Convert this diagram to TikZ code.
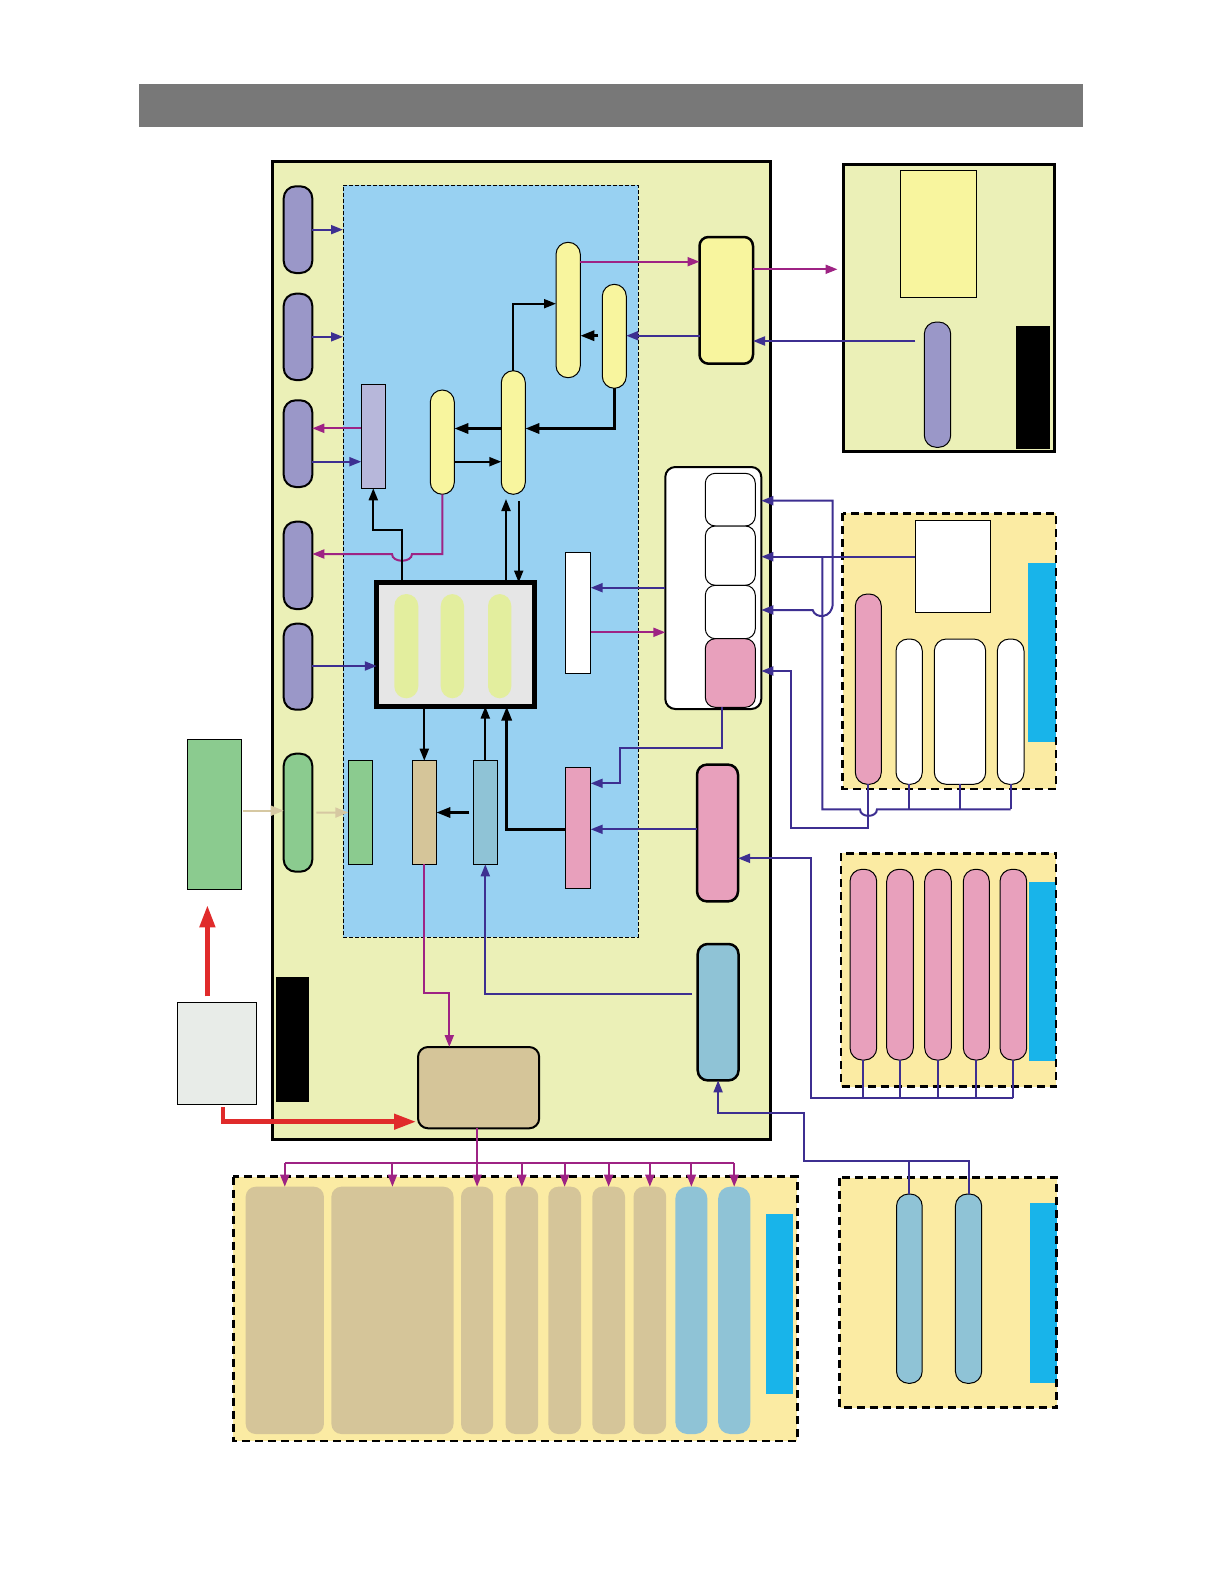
\documentclass[tikz,border=0pt]{standalone}
\usetikzlibrary{arrows.meta,fit,calc}
\definecolor{cmain}{HTML}{EBF0B7}
\definecolor{cpanel}{HTML}{FBEBA3}
\definecolor{cblue}{HTML}{98D1F2}
\definecolor{cpur}{HTML}{9A97C8}
\definecolor{clpur}{HTML}{B7B7DA}
\definecolor{cyel}{HTML}{F8F59E}
\definecolor{cgreen}{HTML}{8BCB8F}
\definecolor{ctanf}{HTML}{D5C599}
\definecolor{clb}{HTML}{8FC3D6}
\definecolor{cpink}{HTML}{E8A0BC}
\definecolor{ccyan}{HTML}{18B4EA}
\definecolor{cind}{HTML}{3D2F91}
\definecolor{cmag}{HTML}{9E2384}
\definecolor{ctan}{HTML}{D6C8A2}
\definecolor{cred}{HTML}{E02B2B}
\definecolor{cgray}{HTML}{787878}
\definecolor{ccb}{HTML}{E6E6E6}
\definecolor{cinner}{HTML}{E3EE9E}
\definecolor{cwg}{HTML}{E8ECE8}
\newcommand\bxn[6]{\node[#2,fit={(#3,#4) (#5,#6)}] (#1) {};}
\begin{document}
\begin{tikzpicture}[x=1pt,y=-1pt,
  >={Triangle[length=12pt,width=9pt]},
  bx/.style={inner sep=0pt,outer sep=0pt,draw=black,line width=1pt},
  nb/.style={inner sep=0pt,outer sep=0pt,draw=none},
  pill/.style={bx,rounded corners=12pt},
  pnlb/.style={draw=black,line width=2.5pt,dash pattern=on 8pt off 5pt},
  bl/.style={draw=cind,line width=2pt},
  mg/.style={draw=cmag,line width=2pt},
  bk/.style={draw=black,line width=2pt},
  bkt/.style={draw=black,line width=3pt,>={Triangle[length=14pt,width=10pt]}},
  rd/.style={draw=cred,line width=4.5pt,>={Triangle[length=22pt,width=15pt]}},
  tn/.style={draw=ctan,line width=2pt,>={Triangle[length=13pt,width=10pt]}},
]
\useasboundingbox (0,0) rectangle (1224,1584);
\fill[white] (0,0) rectangle (1224,1584);

% header
\bxn{hdr}{nb,fill=cgray}{139.2}{84}{1083}{127.5}

% main panel
\bxn{main}{bx,fill=cmain,line width=3pt}{272.5}{161.5}{770.5}{1139.5}
\bxn{blue}{bx,fill=cblue,line width=0.8pt,dash pattern=on 4pt off 2pt}{343}{185}{638}{937}

% left purple pills
\bxn{pp1}{pill,fill=cpur,line width=2pt}{283.7}{186.3}{312.3}{273}
\bxn{pp2}{pill,fill=cpur,line width=2pt}{283.7}{293.7}{312.3}{380}
\bxn{pp3}{pill,fill=cpur,line width=2pt}{283.7}{400.3}{312.3}{487}
\bxn{pp4}{pill,fill=cpur,line width=2pt}{283.7}{521.7}{312.3}{609}
\bxn{pp5}{pill,fill=cpur,line width=2pt}{283.7}{623.7}{312.3}{709.7}
\bxn{gp}{pill,fill=cgreen,line width=2pt}{283.7}{753.7}{312.3}{871.7}

% inner nodes
\bxn{lp}{bx,fill=clpur}{361.3}{384}{385.3}{488.3}
\bxn{yA}{pill,fill=cyel}{430.3}{390}{454.3}{494.3}
\bxn{yB}{pill,fill=cyel}{501.3}{370.7}{525.3}{494.3}
\bxn{yC}{pill,fill=cyel}{556}{242.3}{580.3}{377.7}
\bxn{yD}{pill,fill=cyel}{602.3}{284.3}{626.3}{388.3}
\bxn{E}{bx,fill=cyel,line width=2.5pt,rounded corners=9pt}{699.5}{237}{753}{363.7}

\bxn{cb}{bx,fill=ccb,line width=5pt}{376.8}{582.5}{534.8}{706.5}
\bxn{ci1}{nb,fill=cinner,rounded corners=12pt}{394.3}{594}{418.3}{698.3}
\bxn{ci2}{nb,fill=cinner,rounded corners=12pt}{440.7}{594}{464}{698.3}
\bxn{ci3}{nb,fill=cinner,rounded corners=12pt}{488}{594}{511.3}{698.3}

\bxn{F}{bx,fill=white}{565.3}{552.3}{590.7}{673.3}
\bxn{G}{bx,fill=white,line width=2pt,rounded corners=10pt}{665.3}{467}{761.3}{709}
\bxn{c1}{bx,fill=white,rounded corners=10pt}{705.3}{473.3}{755.3}{526}
\bxn{c2}{bx,fill=white,rounded corners=10pt}{705.3}{526}{755.3}{585.3}
\bxn{c3}{bx,fill=white,rounded corners=10pt}{705.3}{585.3}{755.3}{638.7}
\bxn{c4}{bx,fill=cpink,rounded corners=10pt}{705.3}{638.7}{755.3}{707.3}

\bxn{H}{bx,fill=cpink}{565.3}{767.3}{590.7}{888.3}
\bxn{I}{bx,fill=cpink,line width=2.5pt,rounded corners=10pt}{697}{764.6}{738}{901.4}
\bxn{J}{bx,fill=clb}{473.3}{760.7}{497.3}{864.3}
\bxn{K}{bx,fill=ctanf}{412.3}{760.7}{436.3}{864.3}
\bxn{L}{bx,fill=cgreen}{348.3}{760.7}{372.3}{864.3}
\bxn{O}{bx,fill=clb,line width=2.5pt,rounded corners=10pt}{697.7}{944}{738.5}{1080.4}
\bxn{P}{bx,fill=ctanf,line width=2pt,rounded corners=10pt}{418}{1047}{539.2}{1128.3}
\bxn{Q}{nb,fill=black}{275.8}{977.3}{309.4}{1101.7}

% outside left
\bxn{R}{bx,fill=cwg}{177.4}{1002.3}{256.4}{1104.3}
\bxn{N}{bx,fill=cgreen}{187.3}{739.3}{241.4}{889.3}

% top right panel
\bxn{TR}{bx,fill=cmain,line width=3pt}{843.5}{164.8}{1054.5}{451.8}
\bxn{try}{bx,fill=cyel}{900.3}{170.3}{976.7}{297}
\bxn{trp}{pill,fill=cpur}{924.3}{322}{950.7}{447.3}
\bxn{trk}{nb,fill=black}{1016}{325.7}{1050}{449.3}

% middle right panel
\bxn{V}{nb,fill=cpanel}{842.7}{513.3}{1056}{789}
\bxn{vbar}{nb,fill=ccyan}{1028.3}{562.7}{1056}{741.7}
\draw[pnlb] (V.north west) rectangle (V.south east);
\bxn{vw}{bx,fill=white}{915.3}{520}{990.7}{612.7}
\bxn{vpk}{pill,fill=cpink}{855.3}{594}{881.3}{784.3}
\bxn{vp1}{pill,fill=white}{896}{639}{922.3}{784.3}
\bxn{vbig}{pill,fill=white}{934.3}{639}{985.7}{784.3}
\bxn{vp3}{pill,fill=white}{997.3}{639}{1024}{784.3}

% pink panel
\bxn{U}{nb,fill=cpanel}{841}{853.3}{1056}{1086.7}
\bxn{ubar}{nb,fill=ccyan}{1029.3}{881.7}{1056}{1060.7}
\draw[pnlb] (U.north west) rectangle (U.south east);
\bxn{k1}{pill,fill=cpink}{850}{869.3}{876.7}{1060}
\bxn{k2}{pill,fill=cpink}{886.7}{869.3}{913.3}{1060}
\bxn{k3}{pill,fill=cpink}{924.7}{869.3}{951.3}{1060}
\bxn{k4}{pill,fill=cpink}{963.3}{869.3}{989.3}{1060}
\bxn{k5}{pill,fill=cpink}{1000}{869.3}{1026.7}{1060}

% bottom right panel
\bxn{T}{nb,fill=cpanel}{839.7}{1177.7}{1056.6}{1407.7}
\bxn{tbar}{nb,fill=ccyan}{1029.9}{1202.7}{1056.6}{1382.7}
\draw[pnlb] (T.north west) rectangle (T.south east);
\bxn{t1}{pill,fill=clb}{896.5}{1194}{922.2}{1383.3}
\bxn{t2}{pill,fill=clb}{955.4}{1194}{981.7}{1383.3}

% bottom left panel
\bxn{S}{nb,fill=cpanel}{233.4}{1176.7}{797.4}{1441}
\bxn{sbar}{nb,fill=ccyan}{766.3}{1214}{793.1}{1394}
\draw[pnlb] (S.north west) rectangle (S.south east);
\bxn{b1}{nb,fill=ctanf,rounded corners=10pt}{245.7}{1186.7}{323.9}{1434}
\bxn{b2}{nb,fill=ctanf,rounded corners=10pt}{331.4}{1186.7}{453.5}{1434}
\bxn{b3}{nb,fill=ctanf,rounded corners=10pt}{461}{1186.7}{493.2}{1434}
\bxn{b4}{nb,fill=ctanf,rounded corners=10pt}{505.5}{1186.7}{538.2}{1434}
\bxn{b5}{nb,fill=ctanf,rounded corners=10pt}{548.3}{1186.7}{581}{1434}
\bxn{b6}{nb,fill=ctanf,rounded corners=10pt}{592.3}{1186.7}{625}{1434}
\bxn{b7}{nb,fill=ctanf,rounded corners=10pt}{633.5}{1186.7}{666.2}{1434}
\bxn{b8}{nb,fill=clb,rounded corners=12pt}{675.3}{1186.7}{707.4}{1434}
\bxn{b9}{nb,fill=clb,rounded corners=12pt}{718.1}{1186.7}{750.3}{1434}

% ---------- connectors ----------
% left pills
\draw[bl,->] (pp1.east) -- (pp1.east -| blue.west);
\draw[bl,->] (pp2.east) -- (pp2.east -| blue.west);
\draw[mg,->] (lp.west |- 0,428.3) -- (pp3.east |- 0,428.3);
\draw[bl,->] (pp3.east |- 0,461.7) -- (lp.west |- 0,461.7);
\draw[bl,->] (pp5.east |- 0,666) -- (cb.west |- 0,666);
\draw[mg,->] (yA.south) -- (yA.south |- 0,554) -- (412,554) .. controls (412,563) and (392,563) .. (392,554) -- (pp4.east |- 0,554);
\draw[bk,->] (cb.north -| 402.3,0) -- (402.3,530) -- (lp.south |- 0,530) -- (lp.south);
% cb <-> B
\draw[bk,->] (cb.north -| 506,0) -- (506,499);
\draw[bk,->] (518.7,501) -- (cb.north -| 518.7,0);
% yellow chain
\draw[bk,->] (yB.north) -- (yB.north |- 0,303.7) -- (yC.west |- 0,303.7);
\draw[bkt,->] (yD.south) -- (yD.south |- 0,428.5) -- (yB.east |- 0,428.5);
\draw[bkt,->] (yB.west |- 0,428.5) -- (yA.east |- 0,428.5);
\draw[bk,->] (yA.east |- 0,461.7) -- (yB.west |- 0,461.7);
\draw[bkt,->] ([xshift=-4pt]yD.west |- 0,335.7) -- (yC.east |- 0,335.7);
\draw[mg,->] (yC.east |- 0,261.7) -- (E.west |- 0,261.7);
\draw[bl,->] (E.west |- 0,335.7) -- (yD.east |- 0,335.7);
% E <-> top right panel
\draw[mg,->] (E.east |- 0,269.3) -- ([xshift=-6pt]TR.west |- 0,269.3);
\draw[bl,->] ([xshift=-9pt]trp.west |- 0,341) -- (E.east |- 0,341);
% F <-> G
\draw[bl,->] (G.west |- 0,587.7) -- (F.east |- 0,587.7);
\draw[mg,->] (F.east |- 0,632.3) -- (G.west |- 0,632.3);
% pink cell -> H
\draw[bl,->] (c4.south -| 721.7,0) -- (721.7,748.3) -- (620,748.3) -- (620,783.3) -- (H.east |- 0,783.3);
\draw[bl,->] (I.west |- 0,829.3) -- (H.east |- 0,829.3);
\draw[bkt,->] (H.west |- 0,829.3) -- (506.7,829.3) -- (cb.south -| 506.7,0);
\draw[bk,->] (J.north) -- (J.north |- cb.south);
\draw[bk,->] (K.north |- cb.south) -- (K.north);
\draw[bkt,->] ([xshift=-4pt]J.west) -- (K.east);
\draw[tn,->] ([xshift=4pt]gp.east) -- (L.west);
\draw[tn,->] ([xshift=2pt]N.east |- 0,810.7) -- (gp.west |- 0,810.7);
\draw[bl,->] ([xshift=-6pt]O.west |- 0,994) -- (J.south |- 0,994) -- (J.south);
\draw[mg,->] (K.south) -- (K.south |- 0,993.3) -- (449.3,993.3) -- (P.north -| 449.3,0);
% red
\draw[rd,->] ([yshift=6pt]R.north -| 207.4,0) -- ([yshift=-16pt]N.south -| 207.4,0);
\draw[rd,->] ([yshift=-3pt]R.south -| 223.2,0) -- (223.2,1121.7) -- ([xshift=-2pt]P.west |- 0,1121.7);
% P -> bottom panel
\draw[mg] (P.south -| b3.north) -- (b3.north |- 0,1163.4);
\draw[mg] (b1.north |- 0,1163.4) -- (b9.north |- 0,1163.4);
\foreach \i in {1,...,9} \draw[mg,->] (b\i.north |- 0,1163.4) -- (b\i.north);
% bottom right -> O
\draw[bl] (t1.north) -- (t1.north |- 0,1160.7);
\draw[bl,->] (t2.north) -- (t2.north |- 0,1160.7) -- (804,1160.7) -- (804,1113.3) -- (O.south |- 0,1113.3) -- (O.south);
% pink panel bus -> I
\foreach \i in {1,...,5} \draw[bl] (k\i.south) -- (k\i.south |- 0,1097.7);
\draw[bl,->] (k5.south |- 0,1097.7) -- (810.7,1097.7) -- (810.7,858.3) -- (I.east |- 0,858.3);
% middle panel -> G cells
\draw[bl,->] (vw.west |- 0,556.7) -- (G.east |- 0,556.7);
\draw[bl,<->] (G.east |- 0,500.7) -- (832.7,500.7) -- (832.7,603) .. controls (832.7,619) and (815,619) .. (812.7,610) -- (G.east |- 0,610);
\foreach \n in {vp1,vbig,vp3} \draw[bl] (\n.south) -- (\n.south |- 0,809.3);
\draw[bl] (vp3.south |- 0,809.3) -- (877,809.3) .. controls (877,818) and (860,818) .. (860,809.3) -- (822.3,809.3) -- (822.3,556.7);
\draw[bl,->] (vpk.south) -- (vpk.south |- 0,828.3) -- (791,828.3) -- (791,671) -- (G.east |- 0,671);
\end{tikzpicture}
\end{document}
